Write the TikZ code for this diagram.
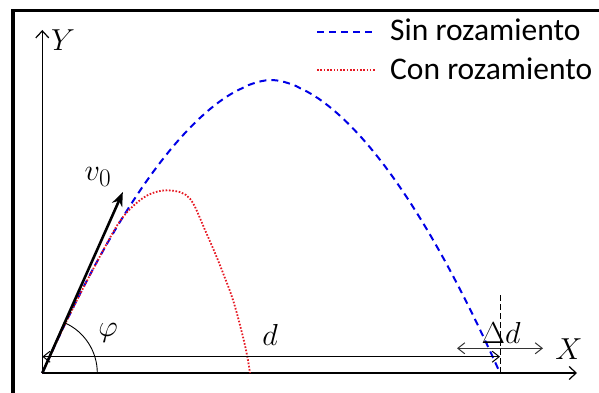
\documentclass[tikz,border=0pt]{standalone}
\usepackage[no-math]{fontspec}
\setmainfont{Carlito}
\usetikzlibrary{arrows.meta}
\definecolor{azul}{RGB}{0,0,230}
\definecolor{rojo}{RGB}{230,25,35}

\begin{document}
\begin{tikzpicture}[x=1pt,y=1pt,>=Stealth,
    lab/.style={inner sep=0pt,font=\fontsize{24.88}{30}\selectfont,scale=1.22,transform shape},
    leg/.style={inner sep=0pt,anchor=base west,font=\fontsize{31.5}{38}\selectfont},
    axis/.style={line width=1.4pt,-{Straight Barb[length=7pt,width=13pt,line width=1.2pt]}},
    cota/.style={line width=1pt,{Straight Barb[length=7pt,width=11pt]}-{Straight Barb[length=7pt,width=11pt]}},
    sinroz/.style={azul,line width=2pt,dash pattern=on 7pt off 5pt},
    conroz/.style={rojo,line width=1.8pt,dash pattern=on 1.6pt off 1.7pt}]
    \useasboundingbox (-42.3,-20) rectangle (556.7,373);
    \draw[line width=3.5pt] (-29.3,-20) -- (-29.3,362.3) -- (556.7,362.3);
    \coordinate (O) at (0,0);
    \coordinate (Ytip) at (0,343);
    \coordinate (Xtip) at (534.7,0);
    \coordinate (V) at (66:198);
    \coordinate (d0) at (0,16.3);
    \coordinate (d1) at (457.7,16.3);
    \coordinate (dd0) at (414.7,24.7);
    \coordinate (dd1) at (500.7,24.7);
    \coordinate (cut0) at (457.7,0);
    \coordinate (cut1) at (457.7,78);
    \draw[axis] (O) -- (Ytip);
    \draw[axis] (O) -- (Xtip);
    \node[lab] (Ylab) at (20.7,333) {$Y$};
    \node[lab] (Xlab) at (526.7,24) {$X$};
    % trayectorias
    \draw[sinroz] plot[domain=0:457.7,samples=120] (\x,{293*(1-pow(abs((\x-228.85)/228.85),1.75))});
    \draw[conroz] plot[smooth,tension=0.6] coordinates {(0,0) (27.7,59) (62.7,126) (80.7,156)
        (100.7,175) (117.7,182) (132.7,182) (143.7,178) (151.7,168) (162.7,143) (172.7,120)
        (180.7,100) (190.7,73) (199.7,40) (204.7,18) (207.7,0)};
    \draw[line width=2.6pt,-{Stealth[length=14pt,width=11pt]}] (O) -- (V);
    \node[lab] (vlab) at (55.7,196) {$v_0$};
    \draw[line width=0.9pt] (55,0) arc[start angle=0,end angle=66,radius=55];
    \node[lab] (philab) at (65.7,40) {$\varphi$};
    \draw[cota] (d0) -- (d1);
    \node[lab] (dlab) at (227.7,38) {$d$};
    \draw[cota,black!80] (dd0) -- (dd1);
    \draw[line width=0.9pt,dash pattern=on 6pt off 3pt] (cut0) -- (cut1);
    \node[lab] (ddlab) at (458.7,40) {$\Delta d$};
    % leyenda
    \coordinate (s0) at (274.7,341);
    \coordinate (s1) at (332.7,341);
    \coordinate (c0) at (274.7,303);
    \coordinate (c1) at (332.7,303);
    \draw[sinroz] (s0) -- (s1);
    \draw[conroz] (c0) -- (c1);
    \node[leg] (sinlab) at (347.7,332) {Sin rozamiento};
    \node[leg] (conlab) at (347.7,293) {Con rozamiento};
\end{tikzpicture}
\end{document}
